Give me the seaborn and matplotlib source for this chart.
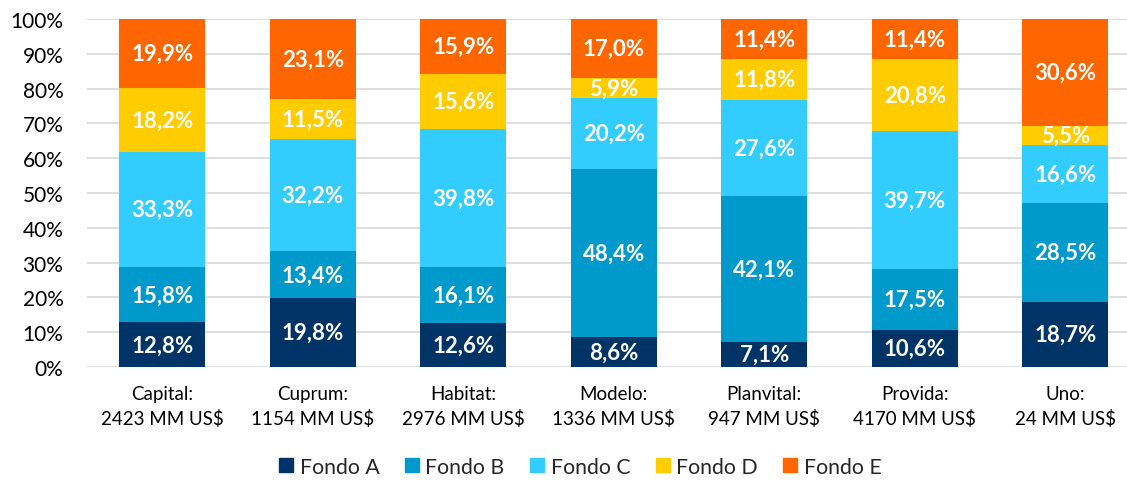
import matplotlib
matplotlib.use("Agg")
import matplotlib.pyplot as plt
import matplotlib.patches as mpatches
import seaborn as sns
import numpy as np
import pandas as pd

categories = ["Capital:\n2423 MM US$", "Cuprum:\n1154 MM US$", "Habitat:\n2976 MM US$",
              "Modelo:\n1336 MM US$", "Planvital:\n947 MM US$", "Provida:\n4170 MM US$",
              "Uno:\n24 MM US$"]
series = ["Fondo A", "Fondo B", "Fondo C", "Fondo D", "Fondo E"]
fondo_a = [12.8, 19.8, 12.6, 8.6, 7.1, 10.6, 18.7]
fondo_b = [15.8, 13.4, 16.1, 48.4, 42.1, 17.5, 28.5]
fondo_c = [33.3, 32.2, 39.8, 20.2, 27.6, 39.7, 16.6]
fondo_d = [18.2, 11.5, 15.6, 5.9, 11.8, 20.8, 5.5]
fondo_e = [19.9, 23.1, 15.9, 17.0, 11.4, 11.4, 30.6]
colors = ["#003366", "#0099CC", "#33CCFF", "#FFCC00", "#FF6600"]

sns.set_style("white")
plt.rcParams["font.family"] = ["Lato", "DejaVu Sans"]

vals = np.array([fondo_a, fondo_b, fondo_c, fondo_d, fondo_e])
cum = np.cumsum(vals, axis=0)
cum = np.minimum(cum, 100)

fig = plt.figure(figsize=(11.27, 4.81), dpi=100)
ax = fig.add_axes([87 / 1127, 113 / 481, 1040 / 1127, 348 / 481])

# draw from top layer down so each layer overlaps the one above
for i in range(len(series) - 1, -1, -1):
    df = pd.DataFrame({"cat": categories, "val": cum[i]})
    sns.barplot(data=df, x="cat", y="val", color=colors[i], width=0.57,
                saturation=1, ax=ax, zorder=2, linewidth=0, edgecolor=colors[i])

for i in range(len(series)):
    bottoms = cum[i] - vals[i]
    for j in range(len(categories)):
        mid = bottoms[j] + vals[i][j] / 2
        ax.text(j, mid, f"{vals[i][j]:.1f}%".replace(".", ","), ha="center", va="center",
                color="white", fontsize=16, fontweight="bold", zorder=3)

ax.set_ylim(0, 100)
ax.set_xlim(-0.5, 6.41)
ax.set_yticks(np.arange(0, 101, 10))
ax.set_yticklabels([f"{t}%" for t in range(0, 101, 10)])
ax.yaxis.grid(True, color="#D9D9D9", linewidth=1.2, zorder=0)
ax.set_axisbelow(True)
for s in ax.spines.values():
    s.set_visible(False)
ax.set_xlabel("")
ax.set_ylabel("")
ax.tick_params(axis="y", length=0, labelsize=15, colors="black", pad=17)
ax.tick_params(axis="x", length=0, labelsize=13.5, colors="black", pad=13)
for lbl in ax.get_xticklabels():
    lbl.set_linespacing(1.45)

handles = [mpatches.Patch(color=c, label=s) for c, s in zip(colors, series)]
fig.legend(handles=handles, loc="center", bbox_to_anchor=(0.515, 0.028), ncol=5,
           frameon=False, fontsize=15.3, handlelength=0.66, handleheight=0.66,
           handletextpad=0.3, columnspacing=1.2, borderpad=0)

fig.savefig("out.png", dpi=100)
